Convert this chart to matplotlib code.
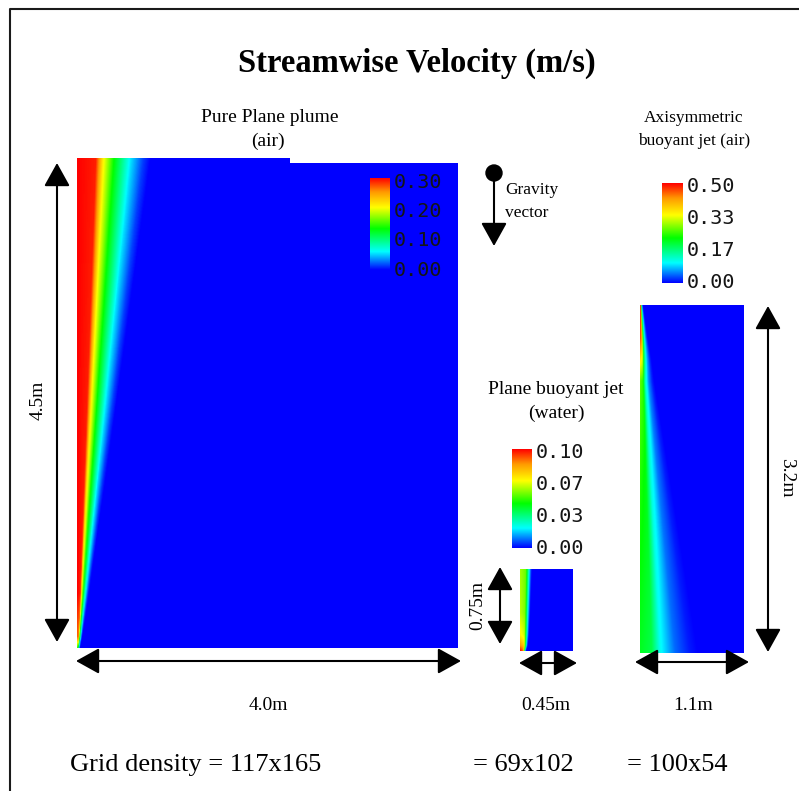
import numpy as np
import matplotlib.pyplot as plt
from matplotlib.colors import LinearSegmentedColormap
from matplotlib.patches import Rectangle, Circle

# colour scale used by the solver output (blue -> cyan -> green -> yellow -> red)
cmap = LinearSegmentedColormap.from_list(
    'vel', [(0.0, '#0000ff'), (0.2, '#00ffff'), (0.45, '#00ff00'),
            (0.68, '#ffff00'), (0.85, '#ff9900'), (1.0, '#ff0000')])

# ---- data ----
# pure plane plume (air), domain 4.0m x 4.5m
plume_depth = [0.0, 2.25, 4.0, 4.4, 4.5]
plume_peak = [0.30, 0.30, 0.30, 0.27, 0.15]
plume_width = [0.77, 0.41, 0.12, 0.05, 0.03]
plume_xi = [0.0, 0.25, 0.36, 0.5, 0.73, 0.9, 1.0]
plume_frac = [1.0, 0.97, 0.68, 0.45, 0.18, 0.05, 0.0]

# plane buoyant jet (water), domain 0.45m x 0.75m
water_depth = [0.0, 0.4, 0.6, 0.7, 0.75]
water_peak = [0.060, 0.062, 0.070, 0.085, 0.100]
water_width = [0.10, 0.085, 0.075, 0.065, 0.05]
water_xi = [0.0, 0.5, 0.7, 0.85, 1.0]
water_frac = [1.0, 0.9, 0.5, 0.2, 0.0]

# axisymmetric buoyant jet (air), domain 1.1m x 3.2m
axi_depth = [0.0, 0.3, 0.5, 0.7, 1.6, 3.2]
axi_peak = [0.50, 0.47, 0.36, 0.27, 0.24, 0.21]
axi_width = [0.03, 0.08, 0.12, 0.15, 0.32, 0.62]
axi_xi = [0.0, 0.2, 0.35, 0.6, 0.85, 1.0]
axi_frac = [1.0, 0.9, 0.5, 0.2, 0.05, 0.0]

cbar_ticks = {'plume': ['0.30', '0.20', '0.10', '0.00'],
              'water': ['0.10', '0.07', '0.03', '0.00'],
              'axi': ['0.50', '0.33', '0.17', '0.00']}
grid_labels = ['Grid density = 117x165', '= 69x102', '= 100x54']


def field(W, H, depth, peak, width, xi, frac, nx=400, ny=400):
    x = np.linspace(0, W, nx)
    y = np.linspace(0, H, ny)
    u = np.zeros((ny, nx))
    for i, d in enumerate(y):
        pk = np.interp(d, depth, peak)
        w = np.interp(d, depth, width)
        u[i] = pk * np.interp(x / w, xi, frac)
    return u


serif = 'Liberation Serif'
mono = 'DejaVu Sans Mono'

fig = plt.figure(figsize=(7.99, 7.91), dpi=100)
ax = fig.add_axes([0, 0, 1, 1])
ax.set_xlim(0, 799)
ax.set_ylim(791, 0)
ax.axis('off')

# frame
ax.plot([10, 10, 799], [791, 9, 9], color='#1a1a1a', lw=1.5)

ax.text(417, 63, 'Streamwise Velocity (m/s)', ha='center', va='center',
        family=serif, weight='bold', fontsize=23.5)


def colorbar(x0, x1, y0, y1, vmax, labels):
    ax.imshow(np.linspace(vmax, 0, 256)[:, None], cmap=cmap, vmin=0, vmax=vmax,
              extent=(x0, x1, y1, y0), aspect='auto', interpolation='bilinear')
    ys = np.linspace(y0 + 4, y1, len(labels))
    for lab, yy in zip(labels, ys):
        ax.text(x1 + 4, yy, lab, ha='left', va='center', family=mono,
                fontsize=14.5, color='#151515')


head = 'head_length=0.9,head_width=0.5'


def arrow(p0, p1):
    ax.annotate('', xy=p1, xytext=p0,
                arrowprops=dict(arrowstyle='<|-|>,' + head, mutation_scale=16,
                                color='black', lw=1.5, shrinkA=0, shrinkB=0))


# ---- panel 1: pure plane plume ----
u1 = field(4.0, 4.5, plume_depth, plume_peak, plume_width, plume_xi, plume_frac)
ax.imshow(u1, cmap=cmap, vmin=0, vmax=0.30, extent=(77, 458, 648, 158),
          aspect='auto', interpolation='bilinear')
ax.add_patch(Rectangle((290, 157), 170, 5.5, color='white', lw=0))
colorbar(370, 390, 178, 270, 0.30, cbar_ticks['plume'])
ax.text(270, 118, 'Pure Plane plume', ha='center', va='center', family=serif, fontsize=14)
ax.text(268, 141, '(air)', ha='center', va='center', family=serif, fontsize=14)
arrow((57, 163), (57, 642))
arrow((76, 661), (461, 661))
ax.text(38, 400, '4.5m', rotation=90, ha='center', va='center', family=serif, fontsize=14)
ax.text(268, 705, '4.0m', ha='center', va='center', family=serif, fontsize=14)

# gravity vector
ax.add_patch(Circle((494, 173), 8, color='black'))
ax.annotate('', xy=(494, 246), xytext=(494, 173),
            arrowprops=dict(arrowstyle='-|>,' + head, mutation_scale=16,
                            color='black', lw=1.5, shrinkA=0, shrinkB=0))
ax.text(505, 190, 'Gravity', ha='left', va='center', family=serif, fontsize=12.5)
ax.text(505, 213, 'vector', ha='left', va='center', family=serif, fontsize=12.5)

# ---- panel 2: plane buoyant jet (water) ----
u2 = field(0.45, 0.75, water_depth, water_peak, water_width, water_xi, water_frac)
ax.imshow(u2, cmap=cmap, vmin=0, vmax=0.10, extent=(520, 573, 651, 569),
          aspect='auto', interpolation='bilinear')
colorbar(512, 532, 449, 548, 0.10, cbar_ticks['water'])
ax.text(556, 390, 'Plane buoyant jet', ha='center', va='center', family=serif, fontsize=14)
ax.text(556, 413, '(water)', ha='center', va='center', family=serif, fontsize=14)
arrow((500, 567), (500, 644))
arrow((519, 663), (577, 663))
ax.text(478, 605, '0.75m', rotation=90, ha='center', va='center', family=serif, fontsize=14)
ax.text(546, 705, '0.45m', ha='center', va='center', family=serif, fontsize=14)

# ---- panel 3: axisymmetric buoyant jet ----
u3 = field(1.1, 3.2, axi_depth, axi_peak, axi_width, axi_xi, axi_frac)
ax.imshow(u3, cmap=cmap, vmin=0, vmax=0.50, extent=(640, 744, 653, 305),
          aspect='auto', interpolation='bilinear')
colorbar(662, 683, 183, 283, 0.50, cbar_ticks['axi'])
ax.text(694, 118, 'Axisymmetric', ha='center', va='center', family=serif, fontsize=12.5)
ax.text(694, 141, 'buoyant jet (air)', ha='center', va='center', family=serif, fontsize=12.5)
arrow((768, 306), (768, 652))
arrow((635, 662), (749, 662))
ax.text(787, 478, '3.2m', rotation=-90, ha='center', va='center', family=serif, fontsize=14)
ax.text(693, 705, '1.1m', ha='center', va='center', family=serif, fontsize=14)

# grid densities
ax.text(70, 765, grid_labels[0], ha='left', va='center', family=serif, fontsize=19)
ax.text(473, 765, grid_labels[1], ha='left', va='center', family=serif, fontsize=19)
ax.text(627, 765, grid_labels[2], ha='left', va='center', family=serif, fontsize=19)

fig.savefig('out.png', dpi=100)
